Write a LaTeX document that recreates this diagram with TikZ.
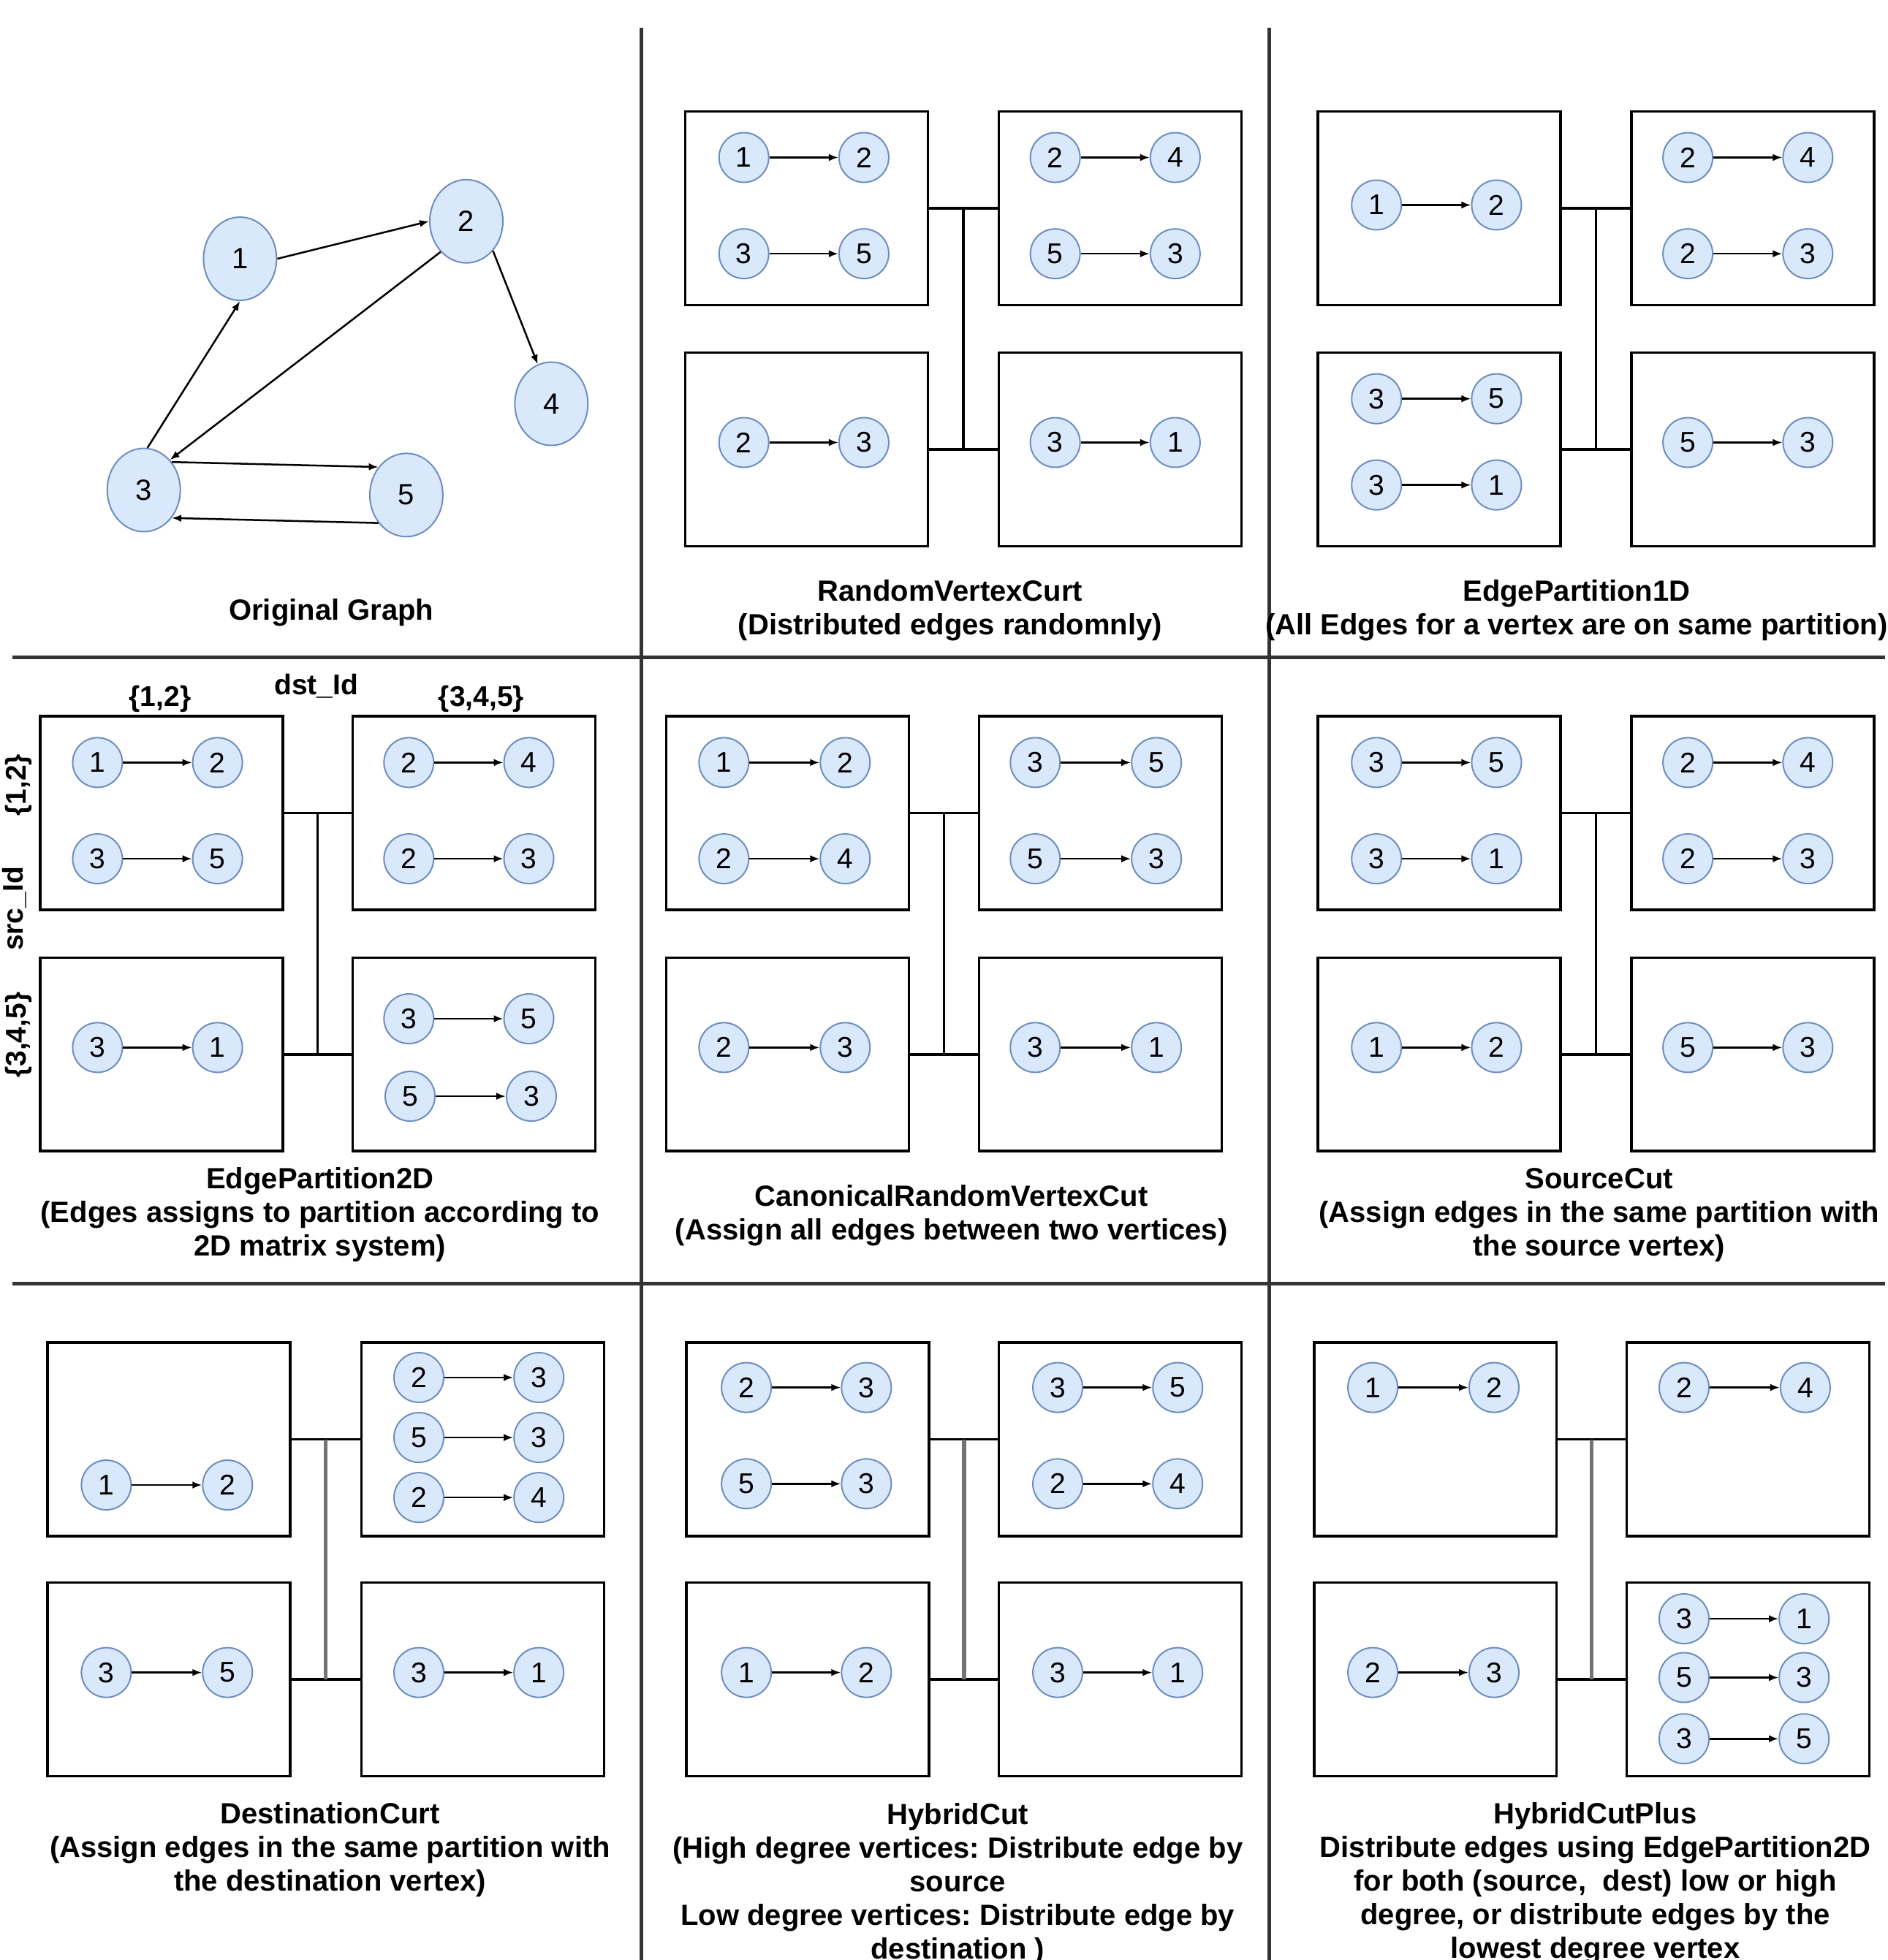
\documentclass[tikz,border=0pt]{standalone}
\usepackage{fontspec}
\setmainfont{Liberation Sans}
\usetikzlibrary{arrows.meta,shapes.geometric,calc}
\frenchspacing

\definecolor{vfill}{HTML}{DAE8FC}
\definecolor{vline}{HTML}{6C8EBF}

% one directed edge: name, x of source, y, source label, x of target, target label
\newcommand\vedge[6]{%
  \node[vx] (#1s) at (#2,#3) {#4};
  \node[vx] (#1t) at (#5,#3) {#6};
  \draw[arr] (#1s) -- (#1t);}

% four partitions joined by a bus: name, left x, right x, top y, bottom y, bus style
\newcommand\partset[6]{%
  \node[part] (#1a) at (#2,#4) {};
  \node[part] (#1b) at (#3,#4) {};
  \node[part] (#1c) at (#2,#5) {};
  \node[part] (#1d) at (#3,#5) {};
  \draw[link] (#1a.east) -- (#1b.west);
  \draw[link] (#1c.east) -- (#1d.west);
  \draw[link,#6] ($(#1a.east)!.5!(#1b.west)$) -- ($(#1c.east)!.5!(#1d.west)$);}

\begin{document}
\begin{tikzpicture}[x=1.7106pt,y=-1.7106pt,
  vx/.style={circle,draw=vline,fill=vfill,line width=2pt,minimum size=68pt,
    inner sep=0pt,font=\fontsize{39}{39}\selectfont},
  gv/.style={ellipse,draw=vline,fill=vfill,line width=2pt,minimum width=100pt,
    minimum height=114pt,inner sep=0pt,font=\fontsize{40}{40}\selectfont},
  arr/.style={line width=2.5pt,-{Latex[length=13pt,width=10pt]}},
  part/.style={draw=black,line width=3.5pt,minimum width=332pt,minimum height=265pt,
    inner sep=0pt,anchor=north west},
  link/.style={line width=3.5pt},
  bus3/.style={draw=black!55,line width=5.5pt},
  divider/.style={line width=5pt,draw=black!80},
  ptext/.style={font=\bfseries\fontsize{40}{46}\selectfont,align=center,inner sep=0pt},
  lab/.style={font=\bfseries\fontsize{39}{39}\selectfont,inner sep=0pt},
]
\useasboundingbox (0,0) rectangle (1510,1568);

% panel separators
\coordinate (v1t) at (513,22);  \coordinate (v1b) at (513,1575);
\coordinate (v2t) at (1015,22); \coordinate (v2b) at (1015,1575);
\coordinate (h1l) at (10,526);  \coordinate (h1r) at (1508,526);
\coordinate (h2l) at (10,1027); \coordinate (h2r) at (1508,1027);
\draw[divider] (v1t) -- (v1b);
\draw[divider] (v2t) -- (v2b);
\draw[divider] (h1l) -- (h1r);
\draw[divider] (h2l) -- (h2r);

% ---------- original graph ----------
\node[gv] (g1) at (192,207) {1};
\node[gv] (g2) at (373,177) {2};
\node[gv] (g4) at (441,323) {4};
\node[gv] (g3) at (115,392) {3};
\node[gv] (g5) at (325,396) {5};
\draw[arr] (g1.east) -- (g2.west);
\draw[arr] (g3.85) -- (g1.south);
\draw[arr] (g2.230) -- (g3.49);
\draw[arr] (g2.-48) -- (g4.109);
\draw[arr] (g3.45) -- (g5.135);
\draw[arr] (g5.225) -- (g3.-45);
\node[ptext] (c1) at (265,490) {Original Graph};

% ---------- RandomVertexCut ----------
\partset{p2}{547}{798}{88}{281}{}
\vedge{p2e1}{595}{126}{1}{691}{2}
\vedge{p2e2}{595}{203}{3}{691}{5}
\vedge{p2e3}{844}{126}{2}{940}{4}
\vedge{p2e4}{844}{203}{5}{940}{3}
\vedge{p2e5}{595}{354}{2}{691}{3}
\vedge{p2e6}{844}{354}{3}{940}{1}
\node[ptext] (c2) at (760,488.5) {RandomVertexCurt\\(Distributed edges randomnly)};

% ---------- EdgePartition1D ----------
\partset{p3}{1053}{1304}{88}{281}{}
\vedge{p3e1}{1101}{164}{1}{1197}{2}
\vedge{p3e2}{1350}{126}{2}{1446}{4}
\vedge{p3e3}{1350}{203}{2}{1446}{3}
\vedge{p3e4}{1101}{319}{3}{1197}{5}
\vedge{p3e5}{1101}{388}{3}{1197}{1}
\vedge{p3e6}{1350}{354}{5}{1446}{3}
\node[ptext] (c3) at (1261,488.5) {EdgePartition1D\\(All Edges for a vertex are on same partition)};

% ---------- EdgePartition2D ----------
\partset{p4}{31}{281}{572}{765}{}
\vedge{p4e1}{78}{610}{1}{174}{2}
\vedge{p4e2}{78}{687}{3}{174}{5}
\vedge{p4e3}{327}{610}{2}{423}{4}
\vedge{p4e4}{327}{687}{2}{423}{3}
\vedge{p4e5}{78}{838}{3}{174}{1}
\vedge{p4e6}{327}{815}{3}{423}{5}
\vedge{p4e7}{328}{877}{5}{425}{3}
\node[lab] (d12) at (128,559) {\{1,2\}};
\node[lab] (dst) at (253,549) {dst\_Id};
\node[lab] (d345) at (385,559) {\{3,4,5\}};
\node[lab,rotate=90] (s12) at (15,628) {\{1,2\}};
\node[lab,rotate=90] (src) at (11.5,727) {src\_Id};
\node[lab,rotate=90] (s345) at (15,828) {\{3,4,5\}};
\node[ptext] (c4) at (256,972) {EdgePartition2D\\(Edges assigns to partition according to\\2D matrix system)};

% ---------- CanonicalRandomVertexCut ----------
\partset{p5}{532}{782}{572}{765}{}
\vedge{p5e1}{579}{610}{1}{676}{2}
\vedge{p5e2}{579}{687}{2}{676}{4}
\vedge{p5e3}{828}{610}{3}{925}{5}
\vedge{p5e4}{828}{687}{5}{925}{3}
\vedge{p5e5}{579}{838}{2}{676}{3}
\vedge{p5e6}{828}{838}{3}{925}{1}
\node[ptext] (c5) at (761,972.5) {CanonicalRandomVertexCut\\(Assign all edges between two vertices)};

% ---------- SourceCut ----------
\partset{p6}{1053}{1304}{572}{765}{}
\vedge{p6e1}{1101}{610}{3}{1197}{5}
\vedge{p6e2}{1101}{687}{3}{1197}{1}
\vedge{p6e3}{1350}{610}{2}{1446}{4}
\vedge{p6e4}{1350}{687}{2}{1446}{3}
\vedge{p6e5}{1101}{838}{1}{1197}{2}
\vedge{p6e6}{1350}{838}{5}{1446}{3}
\node[ptext] (c6) at (1279,972) {SourceCut\\(Assign edges in the same partition with\\the source vertex)};

% ---------- DestinationCut ----------
\partset{p7}{37}{288}{1073}{1265}{bus3}
\vedge{p7e1}{85}{1188}{1}{182}{2}
\vedge{p7e2}{335}{1102}{2}{431}{3}
\vedge{p7e3}{335}{1150}{5}{431}{3}
\vedge{p7e4}{335}{1198}{2}{431}{4}
\vedge{p7e5}{85}{1338}{3}{182}{5}
\vedge{p7e6}{335}{1338}{3}{431}{1}
\node[ptext] (c7) at (264,1480) {DestinationCurt\\(Assign edges in the same partition with\\the destination vertex)};

% ---------- HybridCut ----------
\partset{p8}{548}{798}{1073}{1265}{bus3}
\vedge{p8e1}{597}{1110}{2}{693}{3}
\vedge{p8e2}{597}{1187}{5}{693}{3}
\vedge{p8e3}{846}{1110}{3}{942}{5}
\vedge{p8e4}{846}{1187}{2}{942}{4}
\vedge{p8e5}{597}{1338}{1}{693}{2}
\vedge{p8e6}{846}{1338}{3}{942}{1}
\node[ptext] (c8) at (766,1507) {HybridCut\\(High degree vertices: Distribute edge by\\source\\Low degree vertices: Distribute edge by\\destination )};

% ---------- HybridCutPlus ----------
\partset{p9}{1050}{1300}{1073}{1265}{bus3}
\vedge{p9e1}{1098}{1110}{1}{1195}{2}
\vedge{p9e2}{1347}{1110}{2}{1444}{4}
\vedge{p9e3}{1098}{1338}{2}{1195}{3}
\vedge{p9e4}{1347}{1295}{3}{1443}{1}
\vedge{p9e5}{1347}{1342}{5}{1443}{3}
\vedge{p9e6}{1347}{1391}{3}{1443}{5}
\node[ptext] (c9) at (1276,1507) {HybridCutPlus\\Distribute edges using EdgePartition2D\\for both (source,~ dest) low or high\\degree, or distribute edges by the\\lowest degree vertex};
\end{tikzpicture}
\end{document}
